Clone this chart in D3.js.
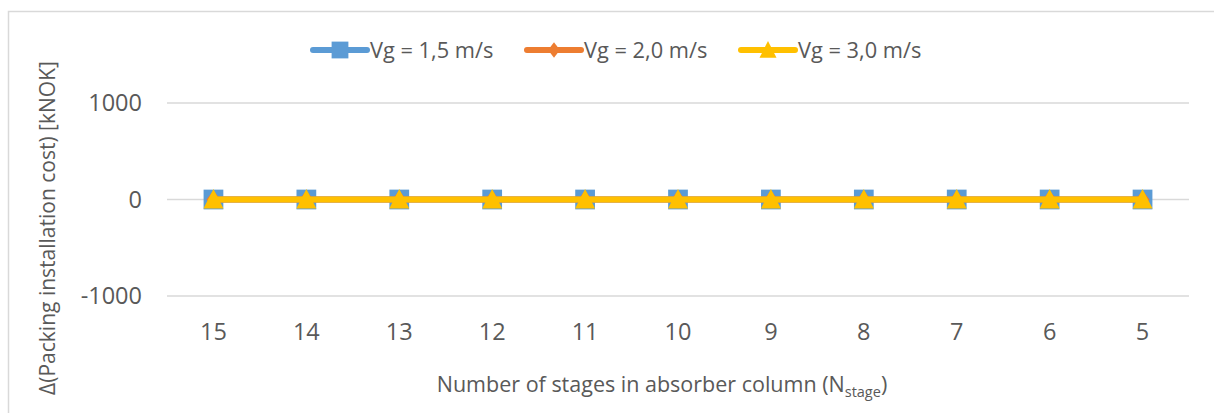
<!DOCTYPE html>
<html>
<head>
<meta charset="utf-8">
<script src="https://cdn.jsdelivr.net/npm/d3@7"></script>
<style>
  html, body { margin: 0; padding: 0; background: #fff; }
  svg { display: block; font-family: "Open Sans", "Noto Sans", sans-serif; }
</style>
</head>
<body>
<svg id="chart" width="1214" height="413"></svg>
<script>
// Number of absorber stages (categories, shown in descending order)
const stages = ["15", "14", "13", "12", "11", "10", "9", "8", "7", "6", "5"];
// Change in packing installation cost [kNOK] per gas velocity
const vg15 = [0, 0, 0, 0, 0, 0, 0, 0, 0, 0, 0];
const vg20 = [0, 0, 0, 0, 0, 0, 0, 0, 0, 0, 0];
const vg30 = [0, 0, 0, 0, 0, 0, 0, 0, 0, 0, 0];
const yTicks = [-1000, 0, 1000];
const seriesNames = ["Vg = 1,5 m/s", "Vg = 2,0 m/s", "Vg = 3,0 m/s"];

const series = [
  { name: seriesNames[0], values: vg15, color: "#5B9BD5", marker: "square" },
  { name: seriesNames[1], values: vg20, color: "#ED7D31", marker: "diamond" },
  { name: seriesNames[2], values: vg30, color: "#FFC000", marker: "triangle" }
];

const svg = d3.select("#chart");
const textColor = "#595959";
const gridColor = "#d9d9d9";

// chart frame
svg.append("rect")
  .attr("x", 8.5).attr("y", 11.5)
  .attr("width", 1300).attr("height", 500)
  .attr("fill", "none").attr("stroke", gridColor).attr("stroke-width", 1.5);

const plot = { left: 167, right: 1189, top: 103, bottom: 296 };

const x = d3.scaleBand().domain(stages).range([plot.left, plot.right]);
const y = d3.scaleLinear().domain([-1000, 1000]).range([plot.bottom, plot.top]);

// horizontal gridlines
svg.append("g").selectAll("line").data(yTicks).join("line")
  .attr("x1", plot.left).attr("x2", plot.right)
  .attr("y1", d => y(d)).attr("y2", d => y(d))
  .attr("stroke", gridColor).attr("stroke-width", 1.5);

// y tick labels
svg.append("g").selectAll("text").data(yTicks).join("text")
  .attr("x", 142).attr("y", d => y(d))
  .attr("dy", "0.36em")
  .attr("text-anchor", "end")
  .attr("font-size", 23.5)
  .attr("fill", textColor)
  .text(d => d);

// x tick labels
svg.append("g").selectAll("text").data(stages).join("text")
  .attr("x", d => x(d) + x.bandwidth() / 2).attr("y", 340)
  .attr("text-anchor", "middle")
  .attr("font-size", 23.5)
  .attr("fill", textColor)
  .text(d => d);

// axis titles
const xt = svg.append("text")
  .attr("x", 662).attr("y", 392)
  .attr("text-anchor", "middle")
  .attr("font-size", 21.5)
  .attr("fill", textColor);
xt.append("tspan").text("Number of stages in absorber column (N");
xt.append("tspan").attr("font-size", 14.5).attr("dy", 5).text("stage");
xt.append("tspan").attr("dy", -5).text(")");

svg.append("text")
  .attr("transform", "translate(55,228) rotate(-90)")
  .attr("text-anchor", "middle")
  .attr("font-size", 21)
  .attr("fill", textColor)
  .text("Δ(Packing installation cost) [kNOK]");

// marker shapes
function markerPath(type) {
  if (type === "square") return d3.symbol(d3.symbolSquare, 390)();
  if (type === "diamond") return "M0,-9L7,0L0,9L-7,0Z";
  return "M0,-10.5L10,9L-10,9Z";
}

const line = d3.line()
  .x((d, i) => x(stages[i]) + x.bandwidth() / 2)
  .y(d => y(d));

series.forEach(s => {
  const g = svg.append("g");
  g.append("path")
    .attr("d", line(s.values))
    .attr("fill", "none")
    .attr("stroke", s.color)
    .attr("stroke-width", 6)
    .attr("stroke-linejoin", "round");
  g.selectAll("path.m").data(s.values).join("path")
    .attr("class", "m")
    .attr("d", markerPath(s.marker))
    .attr("transform", (d, i) => `translate(${x(stages[i]) + x.bandwidth() / 2},${y(d)})`)
    .attr("fill", s.color);
});

// legend
const legendItems = [
  { s: series[0], x0: 313 },
  { s: series[1], x0: 527 },
  { s: series[2], x0: 741 }
];
const ly = 50;
legendItems.forEach(it => {
  const g = svg.append("g");
  g.append("line")
    .attr("x1", it.x0).attr("x2", it.x0 + 54)
    .attr("y1", ly).attr("y2", ly)
    .attr("stroke", it.s.color).attr("stroke-width", 6)
    .attr("stroke-linecap", "round");
  g.append("path")
    .attr("d", markerPath(it.s.marker))
    .attr("transform", `translate(${it.x0 + 27},${ly}) scale(0.85)`)
    .attr("fill", it.s.color);
  g.append("text")
    .attr("x", it.x0 + 57).attr("y", ly)
    .attr("dy", "0.36em")
    .attr("font-size", 21.8)
    .attr("fill", textColor)
    .text(it.s.name);
});
</script>
</body>
</html>
